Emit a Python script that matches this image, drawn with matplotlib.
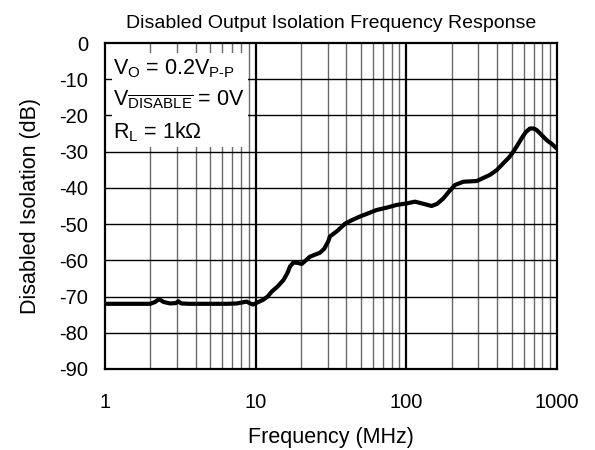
import matplotlib
matplotlib.use("Agg")
import matplotlib.pyplot as plt
from matplotlib.patches import Rectangle

plt.rcParams["font.family"] = ["Liberation Sans", "DejaVu Sans"]
plt.rcParams["mathtext.fontset"] = "custom"
plt.rcParams["mathtext.rm"] = "Liberation Sans"
plt.rcParams["mathtext.it"] = "Liberation Sans"
plt.rcParams["axes.unicode_minus"] = False

# trace (MHz, dB)
freq = [1, 1.5, 2.0, 2.15, 2.28, 2.45, 2.7, 2.95, 3.07, 3.2, 3.6, 4.5, 5.5, 6.5, 7.5,
        8.7, 9.2, 9.6, 10.3, 11.2, 12.0, 12.8, 14.0, 15.3, 16.2, 16.9, 17.8, 19.0,
        20.2, 21.5, 22.9, 24.5, 26.7, 28.5, 30.3, 31.1, 35, 39.1, 44, 49.2, 56,
        63.5, 75, 86.3, 100, 114, 130, 147, 160, 176, 192, 210, 239, 293, 359, 400,
        440, 480, 513, 550, 582, 620, 661, 700, 731, 790, 853, 920, 993]
iso_db = [-72.0, -72.0, -72.0, -71.5, -70.7, -71.5, -71.9, -71.8, -71.3, -71.9, -72.0,
          -72.0, -72.0, -72.0, -71.9, -71.4, -71.9, -72.2, -71.6, -70.9, -70.0, -68.6,
          -67.2, -65.4, -63.6, -61.7, -60.6, -60.7, -61.0, -60.0, -59.0, -58.5, -57.9,
          -56.8, -54.8, -53.4, -51.8, -49.9, -48.8, -47.9, -47.0, -46.1, -45.4, -44.7,
          -44.3, -43.8, -44.4, -45.0, -44.4, -42.9, -41.0, -39.2, -38.3, -38.1, -36.4,
          -35.0, -33.2, -31.6, -30.0, -28.0, -26.3, -24.6, -23.6, -23.6, -24.0, -25.4,
          -26.8, -27.8, -29.1]

x_ticks = [1, 10, 100, 1000]
x_labels = ["1", "10", "100", "1000"]
y_ticks = list(range(-90, 1, 10))

fig = plt.figure(figsize=(5.95, 4.5), dpi=100)
ax = fig.add_axes([0.1765, 0.18, 0.7597, 0.7244])
ax.set_xscale("log")
ax.set_xlim(1, 1000)
ax.set_ylim(-90, 0)

# grid
for dec in [1, 10, 100]:
    for m in range(2, 10):
        ax.axvline(dec * m, color="#6a6a6a", lw=1.0, zorder=1)
for v in [10, 100]:
    ax.axvline(v, color="black", lw=1.6, zorder=1)
for y in y_ticks[1:-1]:
    ax.axhline(y, color="black", lw=1.0, zorder=1)

# blank area behind the test conditions
ax.add_patch(Rectangle((0.0155, 0.681), 0.30, 0.288, transform=ax.transAxes,
                       facecolor="white", edgecolor="none", zorder=2))

ax.plot(freq, iso_db, color="black", lw=3.0, zorder=3, solid_capstyle="round",
        solid_joinstyle="round")

cond_kw = dict(transform=ax.transAxes, fontsize=15.5, va="center", zorder=4)
ax.text(0.018, 0.922, r"V$_\mathrm{O}$ = 0.2V$_\mathrm{P\text{-}P}$", **cond_kw)
ax.text(0.018, 0.823, r"V$_{\overline{\mathrm{DISABLE}}}$ = 0V", **cond_kw)
ax.text(0.018, 0.727, r"R$_\mathrm{L}$ = 1k$\Omega$", **cond_kw)

ax.set_xticks(x_ticks)
ax.set_xticklabels(x_labels)
ax.set_yticks(y_ticks)
ax.tick_params(which="both", length=0, labelsize=14.5)
ax.tick_params(axis="x", pad=17)
ax.tick_params(axis="y", pad=12)
for s in ax.spines.values():
    s.set_linewidth(1.6)
    s.set_zorder(5)

ax.set_xlabel("Frequency (MHz)", fontsize=15.5, labelpad=11)
ax.set_ylabel("Disabled Isolation (dB)", fontsize=15.5, labelpad=13)
ax.set_title("Disabled Output Isolation Frequency Response", fontsize=14, pad=11)

fig.savefig("out.png", dpi=100)
